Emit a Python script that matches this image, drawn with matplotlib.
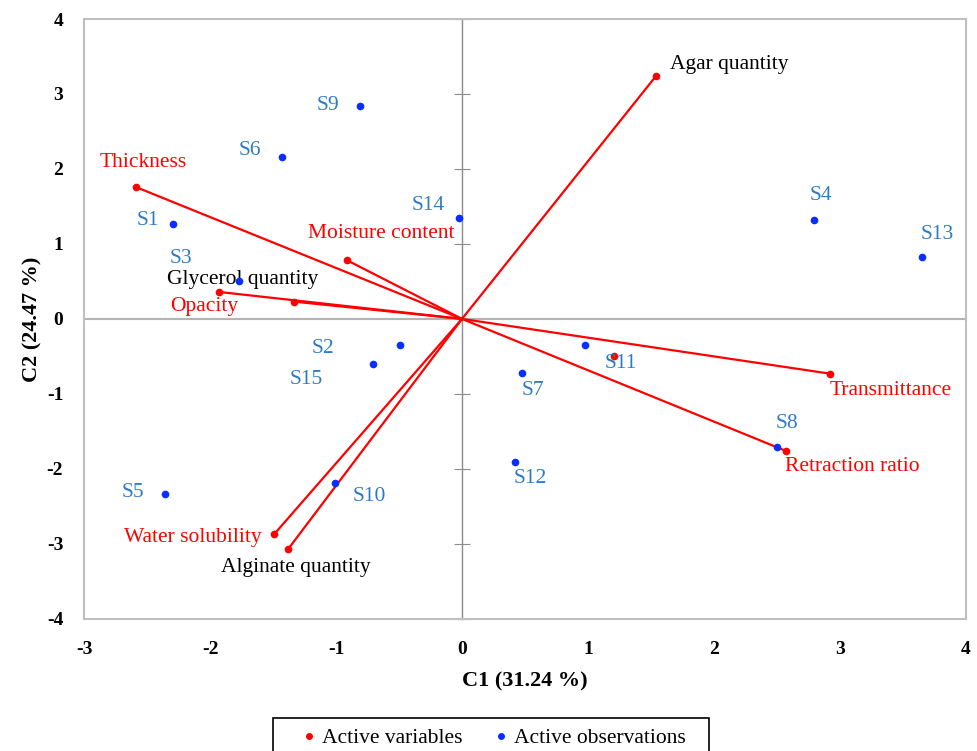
"""PCA biplot: C1 vs C2, active variables and observations."""
import numpy as np
import matplotlib
matplotlib.use("Agg")
import matplotlib.pyplot as plt
from matplotlib.lines import Line2D
from matplotlib.patches import Rectangle

plt.rcParams["font.family"] = ["Liberation Serif", "DejaVu Serif"]
plt.rcParams["axes.unicode_minus"] = False

# observations (blue)
obs_names = ["S1", "S2", "S3", "S4", "S5", "S6", "S7", "S8", "S9", "S10",
             "S11", "S12", "S13", "S14", "S15"]
obs_x = [-2.29, -0.49, -1.77, 2.79, -2.36, -1.43, 0.48, 2.50, -0.81, -1.01,
         0.98, 0.42, 3.65, -0.02, -0.71]
obs_y = [1.27, -0.35, 0.50, 1.32, -2.33, 2.16, -0.72, -1.71, 2.84, -2.19,
         -0.35, -1.91, 0.82, 1.34, -0.60]
# label anchor (left edge, centre) for each observation
obs_lx = [-2.58, -1.19, -2.32, 2.76, -2.70, -1.77, 0.47, 2.49, -1.15, -0.87,
          1.13, 0.41, 3.64, -0.40, -1.37]
obs_ly = [1.31, -0.40, 0.80, 1.65, -2.32, 2.25, -0.95, -1.40, 2.84, -2.37,
          -0.60, -2.13, 1.13, 1.51, -0.81]

# variables (red vectors)
var_names = ["Thickness", "Moisture content", "Opacity", "Glycerol quantity",
             "Agar quantity", "Transmittance", "Retraction ratio",
             "Water solubility", "Alginate quantity"]
var_x = [-2.59, -0.91, -1.93, -1.33, 1.54, 2.92, 2.57, -1.49, -1.38]
var_y = [1.76, 0.78, 0.36, 0.23, 3.24, -0.73, -1.76, -2.87, -3.07]
var_lx = [-2.88, -1.22, -2.32, -2.34, 1.65, 2.92, 2.56, -2.68, -1.91]
var_ly = [2.09, 1.14, 0.16, 0.52, 3.39, -0.95, -1.97, -2.91, -3.31]
var_color = ["red", "red", "red", "black", "black", "red", "red", "red", "black"]
# stray variable point near S11 (drawn without a vector)
extra_x, extra_y = [1.21], [-0.49]

xticks = list(range(-3, 5))
yticks = list(range(-4, 5))

fig = plt.figure(figsize=(9.77, 7.51), dpi=100)
pos = [0.086, 0.176, 0.9027, 0.7987]
ax = fig.add_axes(pos)
ax.set_xlim(-3, 4); ax.set_ylim(-4, 4)
ax.set_xticks(xticks); ax.set_yticks(yticks)
ax.tick_params(length=0, labelsize=14)
ax.tick_params(axis="x", pad=16)
ax.tick_params(axis="y", pad=15)
for lab in ax.get_xticklabels() + ax.get_yticklabels():
    lab.set_fontweight("bold")
for sp in ax.spines.values():
    sp.set_color("#bfbfbf"); sp.set_linewidth(1.5)
ax.set_xlabel("C1 (31.24 %)", fontsize=16, fontweight="bold", labelpad=10)
ax.set_ylabel("C2 (24.47 %)", fontsize=16, fontweight="bold", labelpad=3)

# central axes through the origin; ticks only on the vertical one
axc = fig.add_axes(pos, facecolor="none", zorder=0)
axc.set_xlim(-3, 4); axc.set_ylim(-4, 4)
axc.set_xticks(xticks); axc.set_yticks(yticks)
axc.spines["left"].set_position(("data", 0))
axc.spines["bottom"].set_position(("data", 0))
axc.spines["top"].set_visible(False); axc.spines["right"].set_visible(False)
axc.spines["left"].set_color("#8c8c8c"); axc.spines["left"].set_linewidth(1.0)
axc.spines["bottom"].set_color("#b4b4b4"); axc.spines["bottom"].set_linewidth(1.5)
axc.tick_params(axis="y", direction="inout", length=11, color="#8c8c8c",
                labelleft=False)
axc.tick_params(axis="x", length=0, labelbottom=False)
ax.set_zorder(1); ax.patch.set_visible(False)

for vx, vy in zip(var_x, var_y):
    ax.plot([0, vx], [0, vy], color="#ff0000", lw=1.6, zorder=2)
ax.plot(var_x + extra_x, var_y + extra_y, "o", color="#ff0000", ms=4.5, zorder=3)
ax.plot(obs_x, obs_y, "o", color="#0a2eff", ms=4.5, zorder=4)

for n, x, y in zip(obs_names, obs_lx, obs_ly):
    ax.text(x, y, n, color="#2e7bc4", fontsize=15.5, ha="left", va="center")
for n, x, y, c in zip(var_names, var_lx, var_ly, var_color):
    ax.text(x, y, n, color="#ff0000" if c == "red" else "black",
            fontsize=15.5, ha="left", va="center")

# legend: frame drawn as a figure rectangle running off the bottom edge
fig.patches.append(Rectangle((273 / 977, -0.05), 436 / 977, 0.05 + 33 / 751,
                             transform=fig.transFigure, fill=False,
                             edgecolor="black", lw=1.2))
handles = [Line2D([], [], ls="none", marker="o", ms=4, color="#ff0000"),
           Line2D([], [], ls="none", marker="o", ms=4, color="#0a2eff")]
fig.legend(handles, ["Active variables", "Active observations"],
           loc="center", bbox_to_anchor=(0.506, 1 - 738 / 751), ncol=2,
           fontsize=15.5, frameon=False, handlelength=0.6,
           handletextpad=0.3, columnspacing=1.5, borderpad=0, borderaxespad=0)

fig.savefig("out.png", dpi=100)
